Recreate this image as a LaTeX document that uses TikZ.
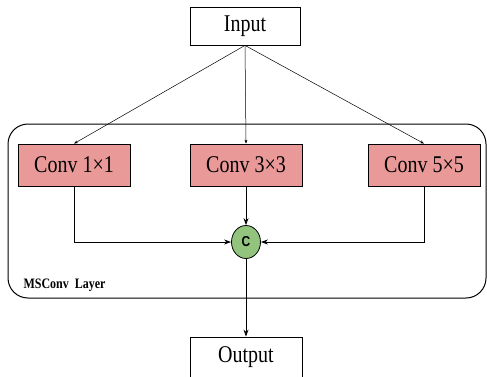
\documentclass[tikz,border=0pt]{standalone}
\usepackage{fontspec}
\setmainfont{Liberation Serif}
\setsansfont{Liberation Sans}
\usetikzlibrary{shapes.geometric,arrows.meta}
\definecolor{rougeconv}{RGB}{234,153,153}
\definecolor{vertconcat}{RGB}{147,196,125}
\begin{document}
\begin{tikzpicture}[x=1pt,y=-1pt]
		\tikzstyle{boite}=[minimum width=110pt, minimum height=38pt,draw,line width=0.8pt,inner sep=0pt,font=\fontsize{20}{22}\selectfont]
		\tikzstyle{boite_rouge}=[boite,minimum width=112pt, minimum height=42pt,fill=rougeconv]
		\tikzstyle{fleche}=[-{Stealth[length=7pt,width=5pt]},line width=0.8pt]
		\tikzstyle{fleche_fine}=[-{Stealth[length=4pt,width=3pt]},line width=0.5pt]
		\useasboundingbox (0,0) rectangle (487,376);
		\draw[line width=1pt,rounded corners=20pt] (8,124) rectangle (486,298); % couche
		\node[boite] (input) at (245,26) {\scalebox{1}[1.2]{Input}};
		\node[boite_rouge] (conv1) at (74,165) {\scalebox{1}[1.2]{Conv 1×1}}; % gauche
		\node[boite_rouge] (conv3) at (246,165) {\scalebox{1}[1.2]{Conv 3×3}}; % milieu
		\node[boite_rouge] (conv5) at (424,165) {\scalebox{1}[1.2]{Conv 5×5}}; % droite
		\node[ellipse,draw,line width=0.8pt,fill=vertconcat,minimum width=29pt,minimum height=33pt,inner sep=0pt,font=\sffamily\bfseries\fontsize{12}{13}\selectfont] (concat) at (246,242) {\scalebox{1}[1.2]{C}};
		\node[boite,minimum width=112pt,minimum height=40pt] (output) at (246,357) {\scalebox{1}[1.2]{Output}};
		\node[anchor=west,font=\bfseries\fontsize{12}{14}\selectfont] (layer) at (20,285) {\scalebox{1}[1.2]{MSConv\ \ Layer}};
		\draw[fleche_fine] (input.south) -- (conv1.north);
		\draw[fleche_fine] (input.south) -- (conv3.north);
		\draw[fleche_fine] (input.south) -- (conv5.north);
		\draw[fleche] (conv1.south) |- (concat.west);
		\draw[fleche] (conv3.south) -- (concat.north);
		\draw[fleche] (conv5.south) |- (concat.east);
		\draw[fleche] (concat.south) -- (output.north);
	\end{tikzpicture}
\end{document}
